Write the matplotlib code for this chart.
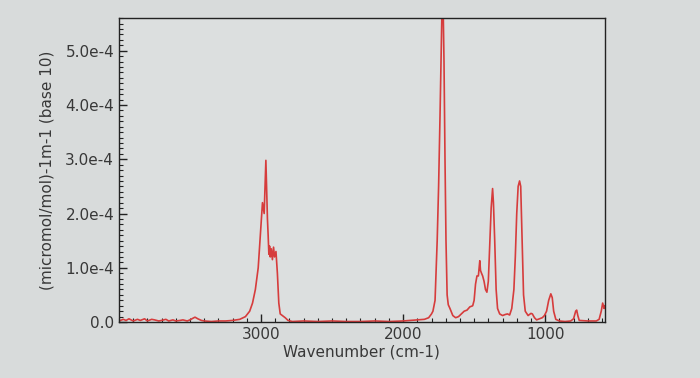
import numpy as np
import matplotlib
matplotlib.use("Agg")
import matplotlib.pyplot as plt
from matplotlib.ticker import MultipleLocator, FixedLocator, FuncFormatter

# spectrum: wavenumber (cm-1) and absorbance in units of 1e-4
wavenumber = [4000, 3970, 3950, 3930, 3900, 3870, 3850, 3820, 3800, 3770, 3750, 3720, 3700,
              3670, 3650, 3620, 3600, 3570, 3550, 3520, 3500, 3480, 3465, 3445, 3420, 3400,
              3350, 3300, 3250, 3200, 3150, 3110, 3080, 3060, 3040, 3020, 3005, 2990, 2978,
              2972, 2966, 2960, 2955, 2950, 2945, 2940, 2935, 2928, 2920, 2912, 2905, 2895,
              2885, 2875, 2865, 2850, 2830, 2810, 2780, 2700, 2600, 2500, 2400, 2300, 2200,
              2100, 2000, 1950, 1900, 1850, 1820, 1800, 1790, 1775, 1760, 1750, 1740, 1732,
              1726, 1718, 1712, 1705, 1698, 1690, 1682, 1670, 1650, 1630, 1610, 1590, 1570,
              1550, 1530, 1510, 1500, 1490, 1480, 1470, 1460, 1455, 1448, 1440, 1430, 1420,
              1410, 1400, 1390, 1380, 1370, 1364, 1355, 1345, 1335, 1320, 1300, 1280, 1265,
              1250, 1235, 1220, 1210, 1200, 1190, 1180, 1172, 1162, 1152, 1140, 1120, 1100,
              1090, 1075, 1060, 1040, 1020, 1005, 990, 975, 960, 950, 940, 925, 900, 860,
              820, 800, 785, 778, 770, 760, 700, 640, 620, 605, 595, 585, 580]
absorbance = [0.02, 0.05, 0.03, 0.06, 0.02, 0.05, 0.03, 0.06, 0.02, 0.05, 0.04, 0.02, 0.03,
              0.05, 0.02, 0.04, 0.02, 0.03, 0.04, 0.02, 0.04, 0.07, 0.09, 0.06, 0.03, 0.02,
              0.01, 0.02, 0.02, 0.03, 0.05, 0.10, 0.20, 0.35, 0.60, 1.00, 1.60, 2.20, 2.00,
              2.50, 2.98, 2.40, 1.90, 1.60, 1.25, 1.40, 1.20, 1.35, 1.15, 1.38, 1.20, 1.30,
              0.90, 0.35, 0.15, 0.12, 0.08, 0.03, 0.01, 0.02, 0.01, 0.02, 0.01, 0.01, 0.02,
              0.01, 0.02, 0.03, 0.04, 0.05, 0.08, 0.15, 0.20, 0.40, 1.50, 2.50, 3.80, 5.00,
              5.80, 5.80, 4.80, 3.00, 1.50, 0.50, 0.32, 0.25, 0.12, 0.08, 0.10, 0.15, 0.20,
              0.22, 0.28, 0.30, 0.40, 0.70, 0.85, 0.85, 1.13, 0.95, 0.90, 0.85, 0.75, 0.60,
              0.55, 0.75, 1.40, 2.10, 2.46, 2.20, 1.50, 0.60, 0.25, 0.15, 0.12, 0.14, 0.15,
              0.13, 0.25, 0.60, 1.20, 2.00, 2.50, 2.60, 2.50, 1.50, 0.50, 0.20, 0.12, 0.16,
              0.15, 0.08, 0.04, 0.06, 0.08, 0.12, 0.20, 0.40, 0.52, 0.45, 0.20, 0.05, 0.02,
              0.01, 0.02, 0.06, 0.20, 0.22, 0.12, 0.03, 0.02, 0.02, 0.05, 0.20, 0.35, 0.25, 0.30]
x_ticks = [3000, 2000, 1000]

x = np.array(wavenumber)
y = np.array(absorbance) * 1e-4

bg = "#d8dbdb"
txt = "#383838"

fig = plt.figure(figsize=(7, 3.78), dpi=100, facecolor=bg)
ax = fig.add_axes([0.170, 0.148, 0.694, 0.804], facecolor="#dcdfdf")
ax.plot(x, y, color="#d63c3c", lw=1.2)

ax.set_xlim(4000, 580)
ax.set_ylim(0, 5.6e-4)

ax.xaxis.set_major_locator(FixedLocator(x_ticks))
ax.xaxis.set_minor_locator(MultipleLocator(100))
ax.yaxis.set_major_locator(MultipleLocator(1e-4))
ax.yaxis.set_minor_locator(MultipleLocator(1e-5))

def yfmt(v, pos):
    if abs(v) < 1e-12:
        return "0.0"
    return "%.1fe-4" % (v * 1e4)

ax.yaxis.set_major_formatter(FuncFormatter(yfmt))
ax.xaxis.set_major_formatter(FuncFormatter(lambda v, p: "%d" % v))

ax.tick_params(which="both", direction="in", top=False, right=False, colors="#222222",
               labelcolor=txt, labelsize=11)
ax.tick_params(which="major", length=6, width=1)
ax.tick_params(which="minor", length=3, width=0.8)
for s in ax.spines.values():
    s.set_color("#222222")
    s.set_linewidth(1.0)

ax.set_xlabel("Wavenumber (cm-1)", fontsize=11, color=txt, labelpad=2)
ax.set_ylabel("(micromol/mol)-1m-1 (base 10)", fontsize=11, color=txt, labelpad=8)

fig.savefig("out.png", dpi=100, facecolor=bg)
